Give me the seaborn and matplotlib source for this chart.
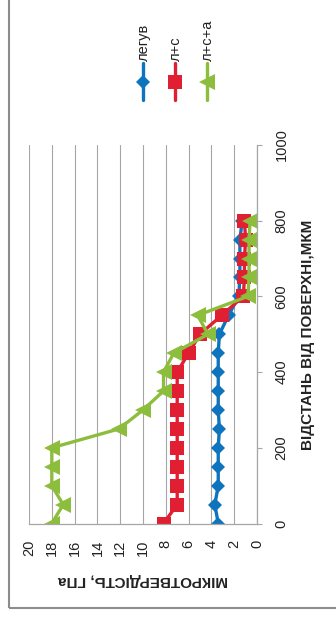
"""
Microhardness profile vs distance from surface, drawn in the rotated
(portrait) layout of the original Excel figure.
"""
import numpy as np
import pandas as pd
import matplotlib
matplotlib.use("Agg")
import matplotlib.pyplot as plt
import seaborn as sns
from matplotlib.lines import Line2D
from matplotlib.patches import Rectangle

# --- data (distance, um; microhardness, GPa) ---
distance = [0, 50, 100, 150, 200, 250, 300, 350, 400, 450, 500, 550, 600, 650, 700, 750, 800]
hv_legirovanyi = [3.4, 3.7, 3.4, 3.4, 3.4, 3.3, 3.4, 3.4, 3.4, 3.4, 3.3, 2.5, 1.6, 1.5, 1.5, 1.5, 1.3]
hv_l_s = [8.2, 7.0, 7.0, 7.0, 7.0, 7.0, 7.0, 7.0, 7.0, 6.0, 5.0, 3.1, 1.2, 1.1, 1.1, 1.0, 1.1]
hv_l_s_a = [18.0, 17.0, 18.0, 18.0, 18.0, 12.1, 10.0, 8.2, 8.2, 7.3, 4.3, 5.2, 0.8, 0.7, 0.7, 0.7, 0.6]

series_names = ["легув", "л+с", "л+с+а"]
colors = ["#0E74BE", "#E01F32", "#8DBD3D"]
markers = ["D", "s", "<"]
marker_sizes = [7.5, 9.5, 11]
hardness_ticks = list(range(0, 21, 2))
distance_ticks = list(range(0, 1001, 200))

df = pd.concat([
    pd.DataFrame({"distance": distance, "hardness": vals, "series": name})
    for name, vals in zip(series_names, [hv_legirovanyi, hv_l_s, hv_l_s_a])
], ignore_index=True)

sns.set_style("white")
plt.rcParams["font.family"] = ["Liberation Sans", "DejaVu Sans"]

W, H = 336, 622
fig = plt.figure(figsize=(W / 100, H / 100), dpi=100)
ax = fig.add_axes([29 / W, 98.5 / H, 228 / W, 378.5 / H])

grid_col = "#A6A6A6"
for t in hardness_ticks:
    ax.axvline(t, color=grid_col, lw=0.8, zorder=0)

sns.lineplot(
    data=df, x="hardness", y="distance", hue="series", style="series",
    hue_order=series_names, style_order=series_names,
    palette=dict(zip(series_names, colors)),
    markers=dict(zip(series_names, markers)), dashes=False,
    sort=False, estimator=None, legend=False, ax=ax,
    lw=2.4, markersize=8, markeredgewidth=0,
)
for line, ms in zip(ax.get_lines()[-3:], marker_sizes):
    line.set_markersize(ms)

ax.set_xlim(20, 0)
ax.set_ylim(0, 1000)
ax.set_xticks(hardness_ticks)
ax.set_yticks(distance_ticks)
ax.yaxis.tick_right()
for side in ["top", "left"]:
    ax.spines[side].set_visible(False)
for side in ["bottom", "right"]:
    ax.spines[side].set_color(grid_col)
    ax.spines[side].set_linewidth(0.9)
ax.tick_params(axis="both", direction="out", length=3.6, width=0.8, color=grid_col,
               labelsize=10.5, labelcolor="#222222")
ax.tick_params(axis="x", pad=8, labelrotation=90)
ax.tick_params(axis="y", pad=9, labelrotation=90)
for lbl in ax.get_yticklabels():
    lbl.set_va("center")

ax.set_xlabel("МІКРОТВЕРДІСТЬ, ГПа", fontsize=11, fontweight="bold", rotation=180,
              color="#222222")
ax.xaxis.set_label_coords(0.5, -0.131)
ax.set_ylabel("ВІДСТАНЬ ВІД ПОВЕРХНІ,МКМ", fontsize=11, fontweight="bold", rotation=90,
              color="#222222")
ax.yaxis.set_label_position("right")
ax.yaxis.set_label_coords(1.224, 0.498)
ax.yaxis.label.set_va("center")

# legend, drawn by hand because the whole chart is turned on its side
for i, (name, c, m) in enumerate(zip(series_names, colors, markers)):
    x = (143 + 32 * i) / W
    fig.add_artist(Line2D([x, x], [1 - 100 / H, 1 - 63 / H], color=c, lw=2.4,
                          transform=fig.transFigure))
    fig.add_artist(Line2D([x], [1 - 82 / H], color=c, marker=m, markeredgewidth=0,
                          markersize=marker_sizes[i], transform=fig.transFigure))
    fig.text(x + 1 / W, 1 - 61 / H, name, rotation=90, ha="center", va="bottom",
             fontsize=10.5, color="#222222")

# chart frame
fig.add_artist(Rectangle((8.5 / W, 1 - 607.5 / H), 1.0, 1.0, fill=False,
                         edgecolor="#8C8C8C", lw=1.5, transform=fig.transFigure))

fig.savefig("out.png", dpi=100)
